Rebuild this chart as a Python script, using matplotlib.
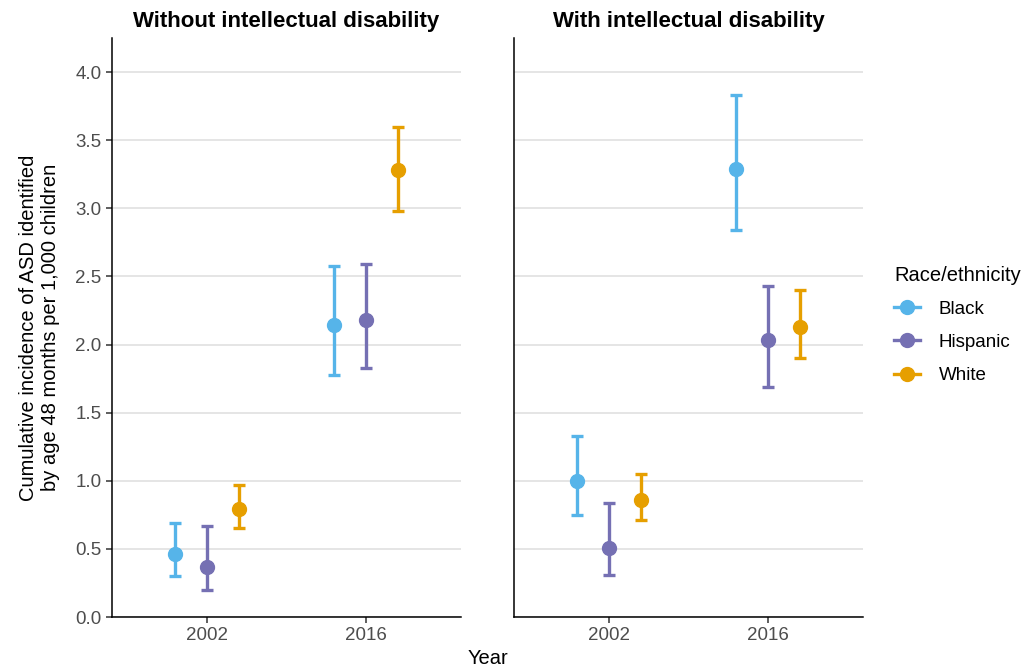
import matplotlib.pyplot as plt
from matplotlib.lines import Line2D

plt.rcParams['font.family'] = ['Liberation Sans', 'DejaVu Sans']

years = ['2002', '2016']
groups = ['Black', 'Hispanic', 'White']
colors = {'Black': '#56B4E9', 'Hispanic': '#7570B3', 'White': '#E69F00'}
panels = ['Without intellectual disability', 'With intellectual disability']

# estimates and 95% CI, per panel, per group, per year
est = {
    'Without intellectual disability': {'Black': [0.46, 2.14], 'Hispanic': [0.37, 2.18], 'White': [0.79, 3.28]},
    'With intellectual disability': {'Black': [1.00, 3.29], 'Hispanic': [0.51, 2.03], 'White': [0.86, 2.13]},
}
low = {
    'Without intellectual disability': {'Black': [0.30, 1.78], 'Hispanic': [0.20, 1.83], 'White': [0.65, 2.98]},
    'With intellectual disability': {'Black': [0.75, 2.84], 'Hispanic': [0.31, 1.69], 'White': [0.71, 1.90]},
}
high = {
    'Without intellectual disability': {'Black': [0.69, 2.58], 'Hispanic': [0.67, 2.59], 'White': [0.97, 3.60]},
    'With intellectual disability': {'Black': [1.33, 3.83], 'Hispanic': [0.84, 2.43], 'White': [1.05, 2.40]},
}

fig = plt.figure(figsize=(10.29, 6.71), dpi=100)
W, H = 1029, 671
lefts = [112, 514]
offsets = [-0.2, 0.0, 0.2]

for i, panel in enumerate(panels):
    ax = fig.add_axes([lefts[i] / W, (H - 617) / H, 349 / W, 579 / H])
    for g, off in zip(groups, offsets):
        xs = [k + 1 + off for k in range(len(years))]
        y = est[panel][g]
        yerr = [[a - b for a, b in zip(y, low[panel][g])],
                [b - a for a, b in zip(y, high[panel][g])]]
        ax.errorbar(xs, y, yerr=yerr, fmt='o', color=colors[g], markersize=10,
                    elinewidth=2.4, capsize=4.5, capthick=2.4, zorder=3)
    ax.set_xlim(0.4, 2.6)
    ax.set_ylim(0, 4.25)
    ax.set_xticks([1, 2])
    ax.set_xticklabels(years)
    ax.set_yticks([0, 0.5, 1, 1.5, 2, 2.5, 3, 3.5, 4])
    ax.yaxis.grid(True, color='#DEDEDE', linewidth=1.1)
    ax.set_axisbelow(True)
    for s in ['top', 'right']:
        ax.spines[s].set_visible(False)
    for s in ['left', 'bottom']:
        ax.spines[s].set_linewidth(1.1)
    ax.tick_params(colors='#333333', labelcolor='#4D4D4D', labelsize=13.5, length=4, width=1.1)
    if i == 0:
        ax.set_yticklabels(['0.0', '0.5', '1.0', '1.5', '2.0', '2.5', '3.0', '3.5', '4.0'])
        ax.set_ylabel('Cumulative incidence of ASD identified\nby age 48 months per 1,000 children',
                      fontsize=14.5, labelpad=11)
    else:
        ax.tick_params(axis='y', left=False, labelleft=False)
    ax.set_title(panel, fontsize=16, fontweight='bold', pad=8)

fig.text(488 / W, 1 - 658 / H, 'Year', ha='center', va='center', fontsize=14.5)

handles = [Line2D([0], [0], color=colors[g], marker='o', markersize=10, linewidth=2.4) for g in groups]
fig.legend(handles, groups, title='Race/ethnicity', loc='center left',
           bbox_to_anchor=(877 / W, 1 - 325 / H), frameon=False, fontsize=13.5,
           title_fontsize=14.5, handlelength=1.4, handletextpad=1.0,
           labelspacing=0.85, alignment='left')

fig.savefig('out.png', dpi=100)
